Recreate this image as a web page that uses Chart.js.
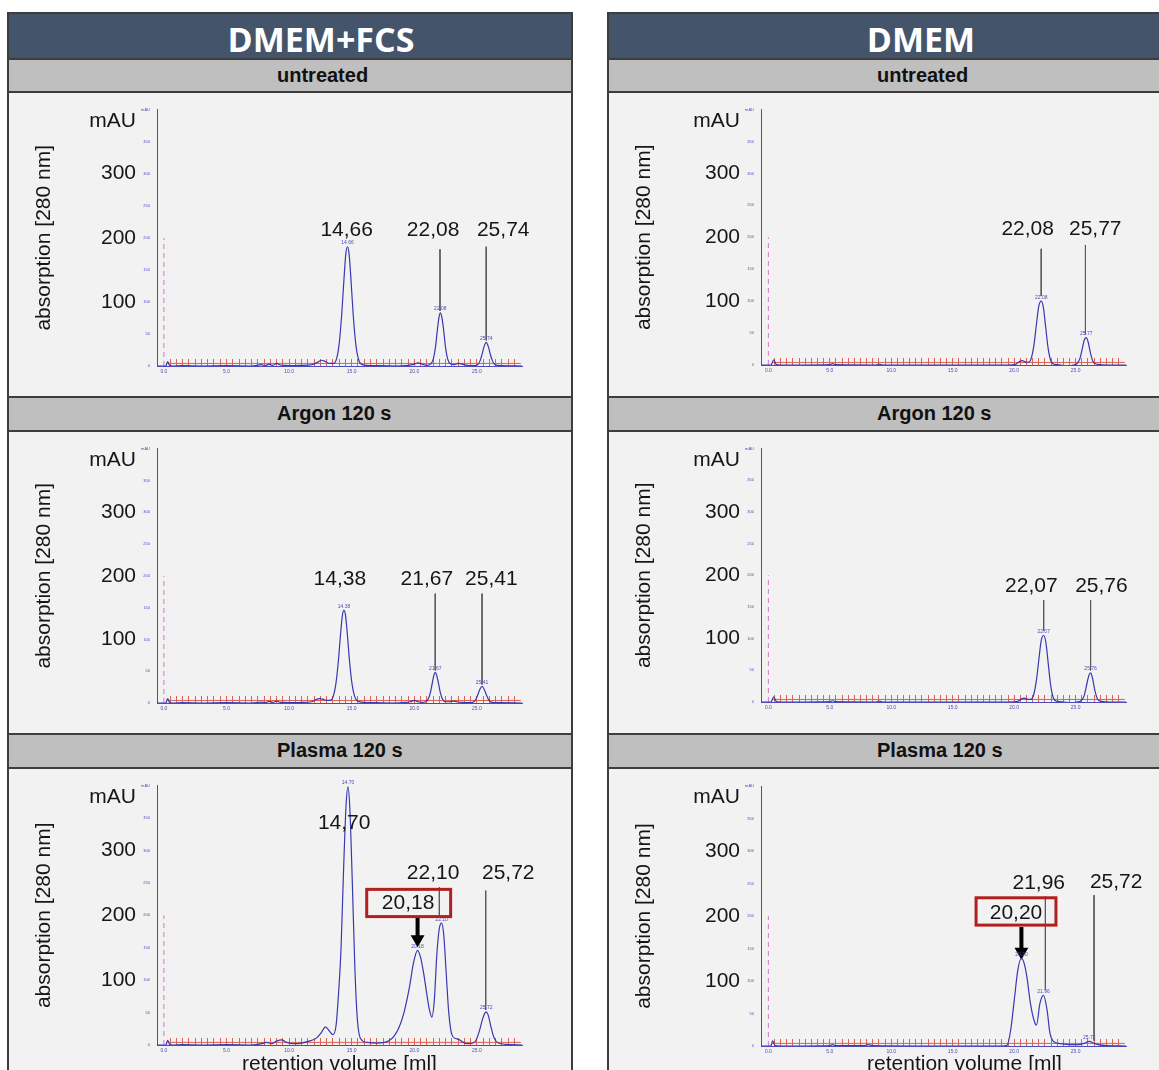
<!DOCTYPE html>
<html><head><meta charset="utf-8">
<script src="https://cdn.jsdelivr.net/npm/chart.js@4.4.1/dist/chart.umd.min.js"></script>
<style>
html,body{margin:0;padding:0;background:#fff;width:1159px;height:1070px;overflow:hidden;position:relative;}
.blk{position:absolute;box-sizing:border-box;border:2px solid #3d3d3d;}
.hdr{background:#44546a;}
.sub{background:#bfbfbf;}
.pan{background:#f2f2f2;}
.htxt{position:absolute;transform:translateX(-50%);font:700 34px 'Open Sans',sans-serif;line-height:40px;color:#fff;white-space:nowrap;}
.stxt{position:absolute;font:700 20px 'Liberation Sans',Arial,sans-serif;line-height:22px;color:#111;white-space:nowrap;}
canvas{position:absolute;}
</style></head><body>
<script>
// ---------------- DATA ----------------
const columnTitles = ['DMEM+FCS', 'DMEM'];
const rowTitles = ['untreated', 'Argon 120 s', 'Plasma 120 s'];

const yBigTicks = [100, 200, 300, 382];   // 382 carries the unit label
const Y_UNIT_AT = 382;
const startMarkX = [0, 0];
const startMarkY = [0, 200];

// DMEM+FCS untreated
const tlX = [-0.55,0.15,0.3,0.45,0.7,1.5,3,5,7,7.8,
  8.1,8.4,8.7,9.0,9.3,9.6,10.2,11,11.8,12.3,
  12.6,12.9,13.2,13.55,13.8,14.0,14.2,14.38,14.53,14.66,
  14.79,14.94,15.12,15.32,15.52,15.75,16.2,17.0,18.5,19.5,
  20.0,20.3,20.6,21.0,21.3,21.5,21.68,21.85,21.97,22.08,
  22.2,22.33,22.5,22.68,22.9,23.2,23.5,23.8,24.2,24.7,
  25.05,25.25,25.42,25.58,25.74,25.9,26.06,26.24,26.45,27.0,
  28.6];
const tlY = [0,0,7,1,0,0.5,0,0.5,0,2,
  0.5,3,1,4,1.5,1,0.5,1,2,6,
  9,7,4,4,12,35,80,135,175,186,
  175,135,80,35,12,3,1,0.5,0,1,
  3,5,3,1,3,10,28,58,76,83,
  76,58,28,10,3,2,4,3,1,0.5,
  2,8,19,31,37,31,19,8,2,0.5,
  0];
const tlLabelText = ['14,66','22,08','25,74'];
const tlLabelX = [14.6, 21.5, 27.1];
const tlLabelY = [212, 212, 212];
const tlLeadX = [22.05, 25.74];
const tlLeadTop = [182, 186];
const tlLeadBot = [86, 40];
const tlTagText = ['14.66','22.08','25.74'];
const tlTagX = [14.66, 22.08, 25.74];
const tlTagY = [186, 83, 37];

// DMEM+FCS Argon 120 s
const mlX = [-0.55,0.15,0.3,0.45,0.7,1.5,3,5,7,7.8,
  8.1,8.4,8.7,9.0,9.3,9.6,10.2,11,11.8,12.1,
  12.4,12.7,13.0,13.27,13.52,13.72,13.92,14.1,14.25,14.38,
  14.51,14.66,14.84,15.04,15.24,15.47,16.0,17.0,18.5,19.3,
  19.7,20.0,20.3,20.6,20.9,21.1,21.28,21.45,21.57,21.67,
  21.78,21.91,22.08,22.26,22.48,22.8,23.1,23.4,23.8,24.4,
  24.72,24.92,25.09,25.25,25.41,25.57,25.73,25.91,26.12,26.8,
  28.6];
const mlY = [0,0,7,1,0,0.5,0,0.5,0,1.5,
  0.5,2.5,1,3,1,1,0.5,1,2,5,
  7,6,4,4,10,28,63,106,137,146,
  137,106,63,28,10,3,1,0.5,0,1,
  2,4,2,1,2,6,16,33,44,48,
  44,33,16,6,2,2,3,2,1,0.5,
  1.5,6,14,22,26,22,14,6,1.5,0.5,
  0];
const mlLabelText = ['14,38','21,67','25,41'];
const mlLabelX = [14.05, 21.0, 26.15];
const mlLabelY = [194, 194, 194];
const mlLeadX = [21.67, 25.41];
const mlLeadTop = [172, 172];
const mlLeadBot = [51, 29];
const mlTagText = ['14.38','21.67','25.41'];
const mlTagX = [14.38, 21.67, 25.41];
const mlTagY = [146, 48, 26];

// DMEM+FCS Plasma 120 s
const blX = [-0.55,0.15,0.3,0.45,0.7,1.5,3,5,7,7.8,
  8.2,8.6,9.0,9.4,9.8,10.4,11.0,11.6,12.2,12.6,
  12.9,13.2,13.5,13.75,13.95,14.15,14.35,14.55,14.7,14.85,
  15.05,15.25,15.45,15.7,16.2,17.0,17.6,18.0,18.4,18.8,
  19.2,19.6,19.95,20.26,20.5,20.75,21.0,21.2,21.4,21.6,
  21.8,22.0,22.18,22.35,22.55,22.75,23.0,23.3,23.6,23.9,
  24.3,24.7,24.95,25.2,25.45,25.6,25.75,25.9,26.1,26.35,
  26.7,27.3,28.6];
const blY = [0,0,7,1,0,0.5,0,0.5,0,2,
  4,2,6,8,4,2,3,6,11,20,
  28,22,16,30,80,150,270,370,398,365,
  250,120,40,10,4,3,4,7,14,28,
  52,88,128,146,135,110,78,55,43,70,
  140,180,188,170,110,50,16,10,8,4,
  2,3,8,22,40,48,51,46,30,12,
  3,1,0];
const blLabelText = ['14,70','22,10','25,72'];
const blLabelX = [14.4, 21.5, 27.5];
const blLabelY = [342, 265, 265];
const blLeadX = [22.0, 25.7];
const blLeadTop = [243, 238];
const blLeadBot = [200, 54];
const blTagText = ['14.70','20.18','22.10','25.72'];
const blTagX = [14.7, 20.26, 22.18, 25.75];
const blTagY = [398, 146, 188, 51];
const blBoxText = '20,18';
const blBox = [16.2, 22.9, 198, 240];      // x from, x to, y from, y to
const blBoxTextAt = [19.5, 219];
const blArrow = [20.26, 197, 163];        // x, shaft top, head centre

// DMEM untreated
const trX = [-0.6,0.2,0.44,0.65,1.0,3,5.0,5.2,5.5,8.8,
  9.0,9.3,12,16,19.5,20.1,20.4,20.65,20.9,21.15,
  21.35,21.6,21.82,22.0,22.2,22.38,22.56,22.78,23.0,23.3,
  23.8,24.3,24.8,25.1,25.35,25.57,25.72,25.87,26.02,26.22,
  26.45,26.8,27.5,29.1];
const trY = [0,0,8,0.5,0,0,0.5,2,0.5,0,
  1.5,0,0,0,0,1,5,7,5,4,
  8,30,65,92,100,90,60,24,6,1,
  0,-2,0,2,10,28,40,43,36,18,
  4,1,0,0];
const trLabelText = ['22,08','25,77'];
const trLabelX = [21.1, 26.6];
const trLabelY = [212, 212];
const trLeadX = [22.2, 25.8];
const trLeadTop = [182, 188];
const trLeadBot = [108, 48];
const trTagText = ['22.08','25.77'];
const trTagX = [22.2, 25.87];
const trTagY = [100, 43];

// DMEM Argon 120 s
const mrX = [-0.6,0.2,0.44,0.65,1.0,3,5.0,5.2,5.5,8.8,
  9.0,9.3,12,16,19.5,20.3,20.6,20.85,21.1,21.35,
  21.55,21.8,22.02,22.2,22.4,22.58,22.76,22.98,23.2,23.5,
  24.0,24.6,25.1,25.45,25.7,25.93,26.08,26.22,26.37,26.57,
  26.8,27.1,27.8,29.1];
const mrY = [0,0,8,0.5,0,0,0.5,2,0.5,0,
  1.5,0,0,0,0,1,5,6,4,4,
  9,33,69,97,105,94,63,25,6,1,
  0,-1,0,2,10,30,42,46,38,18,
  4,1,0,0];
const mrLabelText = ['22,07','25,76'];
const mrLabelX = [21.4, 27.1];
const mrLabelY = [183, 183];
const mrLeadX = [22.4, 26.22];
const mrLeadTop = [161, 161];
const mrLeadBot = [112, 50];
const mrTagText = ['22.07','25.76'];
const mrTagX = [22.4, 26.22];
const mrTagY = [105, 46];

// DMEM Plasma 120 s
const brX = [-0.6,0.2,0.35,0.55,1.0,3,5.0,5.2,5.5,7.8,
  8.1,8.5,12,16,19.0,19.42,19.72,20.01,20.3,20.59,
  20.8,21.03,21.32,21.61,21.81,22.1,22.39,22.68,22.91,23.2,
  23.6,24.08,24.6,25.24,25.7,26.11,26.5,26.84,27.5,29.1];
const brY = [0,0,8,0.5,0,0,0.5,2,0.5,0.5,
  2,0.5,0,0,0,1,25,71,117,135,
  128,107,66,40,32,66,78,55,20,7,
  4,3,2,2,4,7,4,2,0.5,0];
const brLabelText = ['21,96','25,72'];
const brLabelX = [22.0, 28.3];
const brLabelY = [250, 252];
const brLeadX = [22.54, 26.5];
const brLeadTop = [230, 232];
const brLeadBot = [86, 8];
const brTagText = ['20.20','21.96','25.72'];
const brTagX = [20.59, 22.39, 26.11];
const brTagY = [135, 78, 7];
const brBoxText = '20,20';
const brBox = [16.9, 23.4, 186, 228];
const brBoxTextAt = [20.15, 205];
const brArrow = [20.59, 183, 145];

// ---------------- LAYOUT / STYLE ----------------
const AXIS = '#4b4bbf';
const CURVE = '#3838b0';
const TEXT = '#161616';
const FRAC_COLOR = '#dc6253';
const FRAC_LEVEL = 4;
const FRAC_TOP = 11;
const MINI_W = 16;
const X_TITLE = 'retention volume [ml]';

const cols = [
  {boxLeft: 7, boxW: 566, cvLeft: 8, L: 149, R: 514, xmin: -0.55, xmax: 28.6, xTitleLead: ''},
  {boxLeft: 607, boxW: 600, cvLeft: 608, L: 153, R: 518, xmin: -0.6, xmax: 29.1, xTitleLead: '\u2003\u2003'}
];
const rows = [
  {subTop: 58, subH: 35, panTop: 91, panH: 307, cvTop: 92, H: 305},
  {subTop: 396, subH: 36, panTop: 430, panH: 305, cvTop: 431, H: 303},
  {subTop: 733, subH: 36, panTop: 767, panH: 330, cvTop: 768, H: 310}
];

function el(cls, css, txt) {
  const d = document.createElement('div');
  d.className = cls; Object.assign(d.style, css);
  if (txt) d.textContent = txt;
  document.body.appendChild(d); return d;
}
cols.forEach((c, ci) => {
  el('blk hdr', {left: c.boxLeft+'px', top: '12px', width: c.boxW+'px', height: '48px'});
  el('htxt', {left: (c.boxLeft + 314)+'px', top: '19px'}, columnTitles[ci]);
  rows.forEach((r, ri) => {
    el('blk sub', {left: c.boxLeft+'px', top: r.subTop+'px', width: c.boxW+'px', height: r.subH+'px'});
    el('blk pan', {left: c.boxLeft+'px', top: r.panTop+'px', width: c.boxW+'px', height: r.panH+'px'});
    el('stxt', {left: (c.boxLeft + 270)+'px', top: (r.subTop + 6)+'px'}, rowTitles[ri]);
  });
});

Chart.defaults.font.family = "'Liberation Sans', Arial, sans-serif";

const notesPlugin = {
  id: 'notes',
  afterDatasetsDraw(chart, args, o) {
    const {ctx} = chart; const x = chart.scales.x, y = chart.scales.y;
    ctx.save();
    (o.boxes || []).forEach(b => {
      const x0 = x.getPixelForValue(b[0]), x1 = x.getPixelForValue(b[1]);
      const y0 = y.getPixelForValue(b[2]), y1 = y.getPixelForValue(b[3]);
      ctx.strokeStyle = '#b11f1f'; ctx.lineWidth = 3;
      ctx.strokeRect(x0, y1, x1 - x0, y0 - y1);
    });
    ctx.textAlign = 'center'; ctx.textBaseline = 'middle';
    (o.texts || []).forEach(t => {
      ctx.font = t.font; ctx.fillStyle = t.color;
      ctx.fillText(t.text, x.getPixelForValue(t.x), y.getPixelForValue(t.y));
    });
    ctx.restore();
  }
};

function pts(xs, ys) { return xs.map((v, i) => ({x: v, y: ys[i]})); }

function makePanel(ci, ri, p) {
  const c = cols[ci], r = rows[ri];
  const cv = document.createElement('canvas');
  cv.width = 564; cv.height = r.H;
  cv.style.left = c.cvLeft + 'px'; cv.style.top = r.cvTop + 'px';
  document.body.appendChild(cv);
  const base = {pointRadius: 0, xAxisID: 'x', yAxisID: 'y', fill: false};
  const ds = [];
  ds.push(Object.assign({}, base, {data: pts(p.xs, p.ys), borderColor: CURVE, borderWidth: 1.2,
    cubicInterpolationMode: 'monotone', order: 0}));
  ds.push(Object.assign({}, base, {data: pts(startMarkX, startMarkY), borderColor: '#d874cf',
    borderWidth: 1, borderDash: [5, 4], order: 4}));
  ds.push(Object.assign({}, base, {data: [{x: 0.3, y: FRAC_LEVEL}, {x: c.xmax - 0.1, y: FRAC_LEVEL}],
    borderColor: FRAC_COLOR, borderWidth: 1, order: 4}));
  p.leads[0].forEach((lx, i) => ds.push(Object.assign({}, base, {
    data: [{x: lx, y: p.leads[1][i]}, {x: lx, y: p.leads[2][i]}], borderColor: '#5a5a5a', borderWidth: 1, order: 2})));
  if (p.arrow) {
    ds.push(Object.assign({}, base, {data: [{x: p.arrow[0], y: p.arrow[1]}, {x: p.arrow[0], y: p.arrow[2]}],
      borderColor: '#000', borderWidth: 4, pointRadius: [0, 8], pointStyle: 'triangle', pointRotation: 180,
      pointBackgroundColor: '#000', pointBorderWidth: 0, order: 1}));
  }
  const texts = [];
  p.labels[0].forEach((t, i) => texts.push({text: t, x: p.labels[1][i], y: p.labels[2][i], font: "21px 'Liberation Sans', Arial, sans-serif", color: TEXT}));
  p.tags[0].forEach((t, i) => texts.push({text: t, x: p.tags[1][i], y: p.tags[2][i] + 6, font: "5px 'Liberation Sans', Arial, sans-serif", color: AXIS}));
  const boxes = [];
  if (p.box) {
    boxes.push(p.box);
    texts.push({text: p.boxText, x: p.boxTextAt[0], y: p.boxTextAt[1], font: "21px 'Liberation Sans', Arial, sans-serif", color: TEXT});
  }
  const xmax = c.xmax;
  const fracCol = ctx => (ctx.tick && ctx.tick.value > 0.2 && ctx.tick.value < xmax - 0.1) ? FRAC_COLOR : 'rgba(0,0,0,0)';
  new Chart(cv, {
    type: 'line',
    data: {datasets: ds},
    plugins: [notesPlugin],
    options: {
      responsive: false, animation: false, devicePixelRatio: 1,
      layout: {padding: {left: 0, right: 564 - c.R, top: p.T, bottom: 0}},
      plugins: {legend: {display: false}, tooltip: {enabled: false}, notes: {texts, boxes}},
      scales: {
        x: {type: 'linear', position: 'bottom', min: c.xmin, max: c.xmax,
          afterFit: s => { s.height = r.H - p.B; },
          grid: {display: false, drawTicks: false}, border: {display: true, color: AXIS, width: 1},
          ticks: {stepSize: 5, includeBounds: false, autoSkip: false, maxRotation: 0, font: {size: 5}, color: AXIS, padding: 3,
            callback: v => Number(v).toFixed(1)},
          title: ri === 2 ? {display: true, text: c.xTitleLead + X_TITLE, font: {size: 21}, color: TEXT, padding: {top: 0, bottom: 1}} : {display: false}},
        xf: {type: 'linear', axis: 'x', position: {y: FRAC_TOP}, min: c.xmin, max: c.xmax,
          grid: {display: true, drawOnChartArea: false, drawTicks: true, tickLength: 7, lineWidth: 1, tickWidth: 1,
            color: fracCol, tickColor: fracCol},
          border: {display: false},
          ticks: {display: false, stepSize: 0.5, includeBounds: false, autoSkip: false, maxTicksLimit: 1000}},
        y: {type: 'linear', position: 'left', weight: 1, min: 0, max: 400,
          afterFit: s => { s.width = c.L - MINI_W; },
          afterBuildTicks: s => { s.ticks = yBigTicks.map(v => ({value: v})); },
          grid: {display: false, drawTicks: false}, border: {display: false},
          ticks: {font: {size: 21}, color: TEXT, padding: 5, callback: v => v === Y_UNIT_AT ? 'mAU' : String(v)},
          title: {display: true, text: 'absorption [280 nm]', font: {size: 21}, color: TEXT, padding: {top: 24, bottom: 0}}},
        yMini: {type: 'linear', position: 'left', weight: 0, min: 0, max: 400,
          afterFit: s => { s.width = MINI_W; },
          grid: {display: false, drawTicks: false}, border: {display: true, color: AXIS, width: 1},
          ticks: {stepSize: 50, autoSkip: false, font: {size: 4}, color: AXIS, padding: 7,
            callback: v => v === 400 ? 'mAU' : String(v)}}
      }
    }
  });
}

makePanel(0, 0, {xs: tlX, ys: tlY, T: 14, B: 274, labels: [tlLabelText, tlLabelX, tlLabelY], leads: [tlLeadX, tlLeadTop, tlLeadBot], tags: [tlTagText, tlTagX, tlTagY]});
makePanel(0, 1, {xs: mlX, ys: mlY, T: 12, B: 272, labels: [mlLabelText, mlLabelX, mlLabelY], leads: [mlLeadX, mlLeadTop, mlLeadBot], tags: [mlTagText, mlTagX, mlTagY]});
makePanel(0, 2, {xs: blX, ys: blY, T: 17, B: 277, labels: [blLabelText, blLabelX, blLabelY], leads: [blLeadX, blLeadTop, blLeadBot], tags: [blTagText, blTagX, blTagY],
  box: blBox, boxText: blBoxText, boxTextAt: blBoxTextAt, arrow: blArrow});
makePanel(1, 0, {xs: trX, ys: trY, T: 13, B: 273, labels: [trLabelText, trLabelX, trLabelY], leads: [trLeadX, trLeadTop, trLeadBot], tags: [trTagText, trTagX, trTagY]});
makePanel(1, 1, {xs: mrX, ys: mrY, T: 11, B: 271, labels: [mrLabelText, mrLabelX, mrLabelY], leads: [mrLeadX, mrLeadTop, mrLeadBot], tags: [mrTagText, mrTagX, mrTagY]});
makePanel(1, 2, {xs: brX, ys: brY, T: 18, B: 278, labels: [brLabelText, brLabelX, brLabelY], leads: [brLeadX, brLeadTop, brLeadBot], tags: [brTagText, brTagX, brTagY],
  box: brBox, boxText: brBoxText, boxTextAt: brBoxTextAt, arrow: brArrow});
</script>
</body></html>
